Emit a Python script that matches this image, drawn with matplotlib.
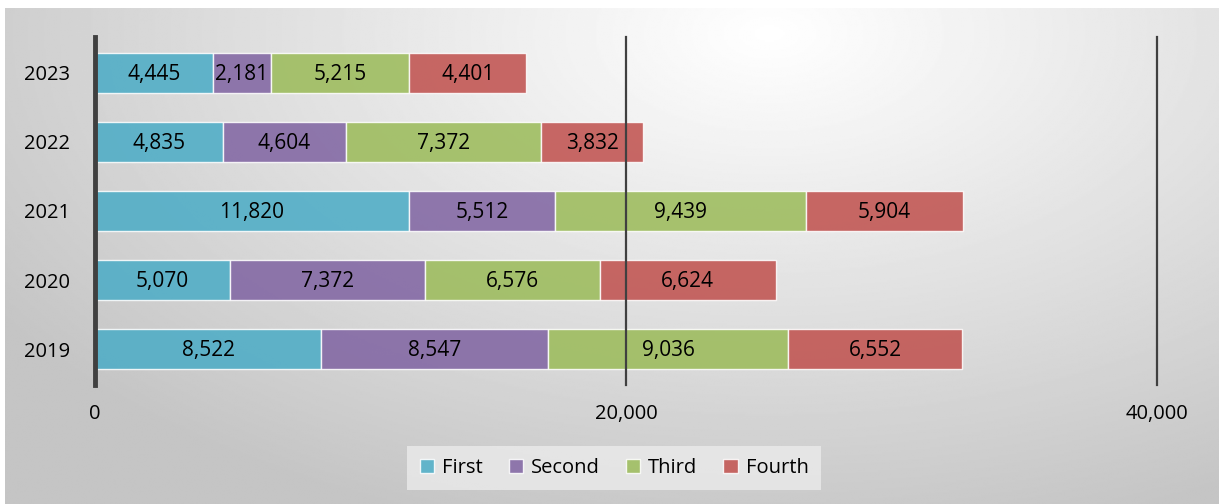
import numpy as np
import matplotlib
matplotlib.use("Agg")
import matplotlib.pyplot as plt
from matplotlib.ticker import FuncFormatter

plt.rcParams['font.family'] = ['Open Sans', 'DejaVu Sans']

# data
years = ['2019', '2020', '2021', '2022', '2023']
first = [8522, 5070, 11820, 4835, 4445]
second = [8547, 7372, 5512, 4604, 2181]
third = [9036, 6576, 9439, 7372, 5215]
fourth = [6552, 6624, 5904, 3832, 4401]
series_names = ['First', 'Second', 'Third', 'Fourth']
colors = ['#4bacc6', '#8064a2', '#9bbb59', '#c0504d']

W, H = 1219, 504
fig = plt.figure(figsize=(W / 100, H / 100), dpi=100)
fig.patch.set_facecolor('white')

# radial gradient background
bg = fig.add_axes([5 / W, 0, 1 - 5 / W, 1 - 8 / H], zorder=-5)
yy, xx = np.mgrid[0:1:300j, 0:1:700j]
r = np.sqrt(((xx - 0.63) / 0.8) ** 2 + ((yy - 0.05) / 1.1) ** 2)
val = np.clip(1.0 - 0.24 * r, 0.77, 1.0)
bg.imshow(val, cmap='gray', vmin=0, vmax=1, aspect='auto', extent=[0, 1, 1, 0])
bg.set_axis_off()

ax = fig.add_axes([95 / W, 1 - 385 / H, (1157 - 95) / W, (385 - 37) / H])
ax.set_facecolor('none')

y = np.arange(len(years))
left = np.zeros(len(years))
for name, vals, c in zip(series_names, [first, second, third, fourth], colors):
    bars = ax.barh(y, vals, left=left, height=0.58, color=c, alpha=0.86,
                   edgecolor='white', linewidth=1, label=name, zorder=2)
    for rect, v in zip(bars, vals):
        ax.text(rect.get_x() + rect.get_width() / 2, rect.get_y() + rect.get_height() / 2 - 0.02,
                f'{v:,}', ha='center', va='center', fontsize=15, color='black', zorder=4)
    left += np.array(vals)

ax.set_xlim(0, 40000)
ax.set_ylim(-0.52, 4.52)
ax.set_xticks([0, 20000, 40000])
ax.xaxis.set_major_formatter(FuncFormatter(lambda v, p: f'{int(v):,}'))
ax.set_yticks(y)
ax.set_yticklabels(years)
ax.tick_params(length=0, labelsize=14.5, colors='black')
ax.tick_params(axis='x', pad=14)
ax.tick_params(axis='y', pad=18)
for x in [20000, 40000]:
    ax.axvline(x, color='#404040', linewidth=1.6, zorder=3, clip_on=False)
for s in ['top', 'right', 'bottom']:
    ax.spines[s].set_visible(False)
ax.spines['left'].set_color('#404040')
ax.spines['left'].set_linewidth(3.5)

leg = fig.legend(loc='center', bbox_to_anchor=(614 / W, 1 - 468 / H), ncol=4,
                 fontsize=14.5, frameon=True, fancybox=False, handlelength=0.7,
                 handleheight=0.7, handletextpad=0.4, columnspacing=1.3,
                 borderpad=0.6)
leg.get_frame().set_facecolor('#ebebeb')
leg.get_frame().set_edgecolor('none')
leg.get_frame().set_alpha(0.8)

fig.savefig('out.png', dpi=100)
